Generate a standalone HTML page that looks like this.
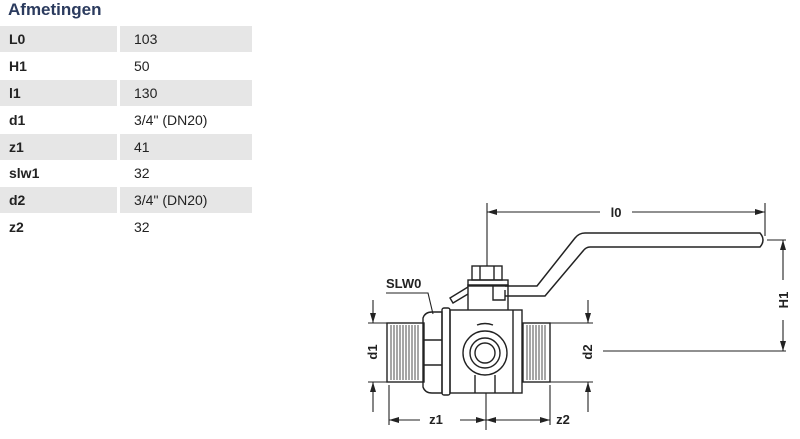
<!DOCTYPE html>
<html><head><meta charset="utf-8"><style>
body{margin:0;width:800px;height:439px;background:#fff;overflow:hidden;position:relative;font-family:"Liberation Sans",Arial,sans-serif}
.t{position:absolute;left:8px;top:0px;font-size:17px;font-weight:bold;color:#2b3b5e}
.r{position:absolute;left:0;width:252px;height:26px;font-size:14px;color:#222}
.r.g .a,.r.g .b{background:#e6e6e6}
.a{position:absolute;left:0;width:117px;height:26px;font-weight:bold;padding-left:9px;box-sizing:border-box;line-height:26px}
.b{position:absolute;left:120px;width:132px;height:26px;padding-left:14px;box-sizing:border-box;line-height:26px}
svg{position:absolute;left:0;top:0}
svg text{font-family:"Liberation Sans",Arial,sans-serif}
</style></head><body>
<div class="t">Afmetingen</div>
<div class="r g" style="top:26px"><div class="a">L0</div><div class="b">103</div></div>
<div class="r" style="top:53px"><div class="a">H1</div><div class="b">50</div></div>
<div class="r g" style="top:80px"><div class="a">l1</div><div class="b">130</div></div>
<div class="r" style="top:107px"><div class="a">d1</div><div class="b">3/4" (DN20)</div></div>
<div class="r g" style="top:134px"><div class="a">z1</div><div class="b">41</div></div>
<div class="r" style="top:160px"><div class="a">slw1</div><div class="b">32</div></div>
<div class="r g" style="top:187px"><div class="a">d2</div><div class="b">3/4" (DN20)</div></div>
<div class="r" style="top:214px"><div class="a">z2</div><div class="b">32</div></div>
<svg width="800" height="439" viewBox="0 0 800 439" fill="none" stroke="#222" stroke-width="1.1">
<defs><marker id="ar" viewBox="0 0 10 6" refX="10" refY="3" markerWidth="10" markerHeight="6" orient="auto" markerUnits="userSpaceOnUse"><path d="M0 0L10 3L0 6z" fill="#222" stroke="none"/></marker></defs>
<line x1="487" y1="203" x2="487" y2="266"/>
<line x1="765" y1="203" x2="765" y2="236"/>
<line x1="600" y1="212" x2="487" y2="212" marker-end="url(#ar)"/>
<line x1="632" y1="212" x2="765" y2="212" marker-end="url(#ar)"/>
<text x="616" y="217" font-size="13" font-weight="bold" fill="#222" stroke="none" text-anchor="middle">l0</text>
<path d="M505 286 L537 286 L575 238 Q579 233 585 233 L760 233 Q766 240 760 247 L590 247 Q586 247 583 251 L545 296 L505 296" stroke-width="1.5"/>
<line x1="767" y1="240" x2="786" y2="240"/>
<line x1="783" y1="280" x2="783" y2="240" marker-end="url(#ar)"/>
<line x1="783" y1="320" x2="783" y2="351" marker-end="url(#ar)"/>
<line x1="603" y1="351" x2="786" y2="351"/>
<text x="0" y="0" font-size="13" font-weight="bold" fill="#222" stroke="none" text-anchor="middle" transform="translate(788 300) rotate(-90)">H1</text>
<g stroke-width="1.4">
<rect x="387" y="323" width="37" height="59"/>
<g stroke-width="0.8"><path d="M391 325v55M394 325v55M397 325v55M400 325v55M403 325v55M406 325v55M409 325v55M412 325v55M415 325v55M418 325v55"/></g>
<path d="M423 318 Q425 312 432 312 L442 312 L442 393 L432 393 Q425 393 423 387 Z"/>
<line x1="423" y1="340" x2="442" y2="340"/><line x1="423" y1="365" x2="442" y2="365"/>
<rect x="442" y="308" width="8" height="87" rx="2"/>
<rect x="450" y="310" width="72" height="83"/>
<line x1="513" y1="310" x2="513" y2="393"/>
<rect x="523" y="323" width="27" height="59"/>
<g stroke-width="0.8"><path d="M527 325v55M530 325v55M533 325v55M536 325v55M539 325v55M542 325v55M545 325v55"/></g>
<path d="M468 310 L468 285 L508 285 L508 310"/>
<rect x="468" y="280" width="40" height="6"/>
<rect x="472" y="266" width="30" height="14"/>
<line x1="480" y1="266" x2="480" y2="280"/><line x1="494" y1="266" x2="494" y2="280"/>
<path d="M468 287 L450 298 L453 303 L468 294"/>
<path d="M493 286 L493 300 L505 300 L505 290"/>
<circle cx="485" cy="353" r="22"/>
<circle cx="485" cy="353" r="15"/>
<circle cx="485" cy="353" r="10"/>
<path d="M475 375 L475 393 M495 375 L495 393"/>
<path d="M477 325 Q485 322 493 325"/>
</g>
<text x="386" y="288" font-size="13" font-weight="bold" fill="#222" stroke="none">SLW0</text>
<path d="M386 293 L428 293 L433 314"/>
<line x1="368" y1="323" x2="387" y2="323"/><line x1="368" y1="382" x2="387" y2="382"/>
<line x1="373" y1="300" x2="373" y2="323" marker-end="url(#ar)"/>
<line x1="373" y1="412" x2="373" y2="382" marker-end="url(#ar)"/>
<text x="0" y="0" font-size="13" font-weight="bold" fill="#222" stroke="none" text-anchor="middle" transform="translate(377 352) rotate(-90)">d1</text>
<line x1="550" y1="323" x2="593" y2="323"/><line x1="550" y1="382" x2="593" y2="382"/>
<line x1="588" y1="300" x2="588" y2="323" marker-end="url(#ar)"/>
<line x1="588" y1="412" x2="588" y2="382" marker-end="url(#ar)"/>
<text x="0" y="0" font-size="13" font-weight="bold" fill="#222" stroke="none" text-anchor="middle" transform="translate(592 352) rotate(-90)">d2</text>
<line x1="389" y1="385" x2="389" y2="425"/>
<line x1="486" y1="393" x2="486" y2="430"/>
<line x1="550" y1="385" x2="550" y2="425"/>
<line x1="420" y1="420" x2="389" y2="420" marker-end="url(#ar)"/>
<line x1="460" y1="420" x2="486" y2="420" marker-end="url(#ar)"/>
<line x1="520" y1="420" x2="486" y2="420" marker-end="url(#ar)"/>
<line x1="520" y1="420" x2="550" y2="420" marker-end="url(#ar)"/>
<text x="436" y="424" font-size="13" font-weight="bold" fill="#222" stroke="none" text-anchor="middle">z1</text>
<text x="563" y="424" font-size="13" font-weight="bold" fill="#222" stroke="none" text-anchor="middle">z2</text>
</svg>
</body></html>
